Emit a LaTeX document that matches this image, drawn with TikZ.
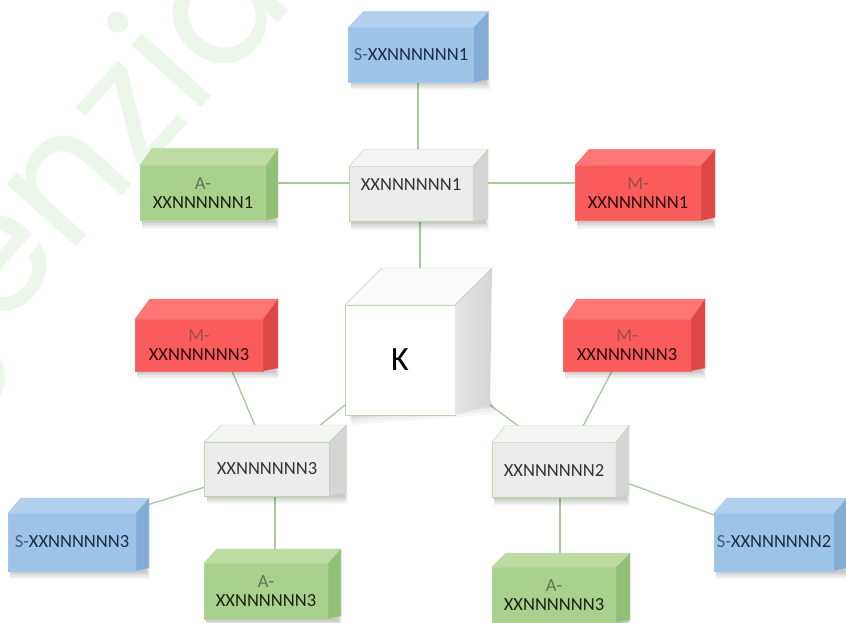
\documentclass[tikz,border=0pt]{standalone}
\usepackage{fontspec}
\setmainfont{Carlito}
\newfontfamily\wmfont{Poppins}
\usetikzlibrary{backgrounds,calc}
\definecolor{bluF}{HTML}{9DC3E6}\definecolor{bluT}{HTML}{B3D1EE}\definecolor{bluS}{HTML}{84ADD6}\definecolor{bluB}{HTML}{A6C9EA}
\definecolor{grnF}{HTML}{A9D18E}\definecolor{grnT}{HTML}{BCDCA4}\definecolor{grnS}{HTML}{92C077}\definecolor{grnB}{HTML}{B1D698}
\definecolor{redF}{HTML}{FA5C5C}\definecolor{redT}{HTML}{FF7676}\definecolor{redS}{HTML}{DE4747}\definecolor{redB}{HTML}{FC6A6A}
\definecolor{gryF}{HTML}{ECECEC}\definecolor{gryT}{HTML}{F4F4F4}\definecolor{gryS}{HTML}{D5D5D5}\definecolor{gryB}{HTML}{B7D8A8}
\definecolor{link}{HTML}{A9C89C}
\definecolor{wm}{HTML}{EDF6EA}
\definecolor{sPre}{HTML}{44627F}\definecolor{sMain}{HTML}{1B2B45}
\definecolor{aPre}{HTML}{5E7754}\definecolor{aMain}{HTML}{17230F}
\definecolor{mPre}{HTML}{A44A4A}\definecolor{mMain}{HTML}{2B0C0C}
\definecolor{cMain}{HTML}{333333}
\newcommand\boxfont{\fontsize{18.5}{19.5}\selectfont}
% #1 name #2 cx #3 cy #4 w #5 h #6 dx #7 dy #8 colour prefix #9 text
\newcommand\dbox[9]{%
  \pgfmathsetmacro\xl{#2-#4/2}\pgfmathsetmacro\xr{#2+#4/2}%
  \pgfmathsetmacro\yt{#3-#5/2}\pgfmathsetmacro\yb{#3+#5/2}%
  \foreach \s/\o in {8/0.04,6/0.05,4/0.06,2/0.07}{%
    \fill[black,opacity=\o] ({\xl+2},{\yb-4}) rectangle ({\xr+#6-3+\s/2},{\yb+\s});}
  \node[draw=#8B, fill=#8F, minimum width=#4, minimum height=#5, inner sep=0pt,
        align=center, font=\boxfont] (#1) at (#2,#3) {#9};
  \filldraw[fill=#8T, draw=#8B] (\xl,\yt) -- ++(#6,-#7) -- ({\xr+#6},{\yt-#7}) -- (\xr,\yt) -- cycle;
  \filldraw[fill=#8S, draw=#8B] (\xr,\yt) -- ({\xr+#6},{\yt-#7}) -- ({\xr+#6},{\yb-3}) -- (\xr,\yb) -- cycle;
}
\tikzset{conn/.style={draw=link, line width=1.3pt}}
\begin{document}
\begin{tikzpicture}[x=1pt,y=-1pt]
\useasboundingbox (0,0) rectangle (846,623);
% boxes
\dbox{S1}{411}{55}{125}{55}{15}{16}{blu}{{\color{sPre}S-}{\color{sMain}XXNNNNNN1}}
\dbox{C1}{411}{194}{124}{55}{15}{17}{gry}{\color{cMain}XXNNNNNN1\\[-6pt]\strut}
\dbox{A1}{203}{193}{126}{55}{12}{17}{grn}{{\color{aPre}A-}\\{\color{aMain}XXNNNNNN1}}
\dbox{M1}{638}{193}{126}{55}{14}{16}{red}{{\color{mPre}M-}\\{\color{mMain}XXNNNNNN1}}
\dbox{M3L}{199}{345}{128}{52}{15}{20}{red}{{\color{mPre}M-}\\{\color{mMain}XXNNNNNN3}}
\dbox{M3R}{627}{345}{128}{52}{14}{20}{red}{{\color{mPre}M-}\\{\color{mMain}XXNNNNNN3}}
\dbox{C3}{267}{469}{125}{54}{17}{17}{gry}{\color{cMain}XXNNNNNN3}
\dbox{C2}{554}{470}{124}{55}{13}{17}{gry}{\color{cMain}XXNNNNNN2}
\dbox{S3}{72}{542}{128}{58}{13}{15}{blu}{{\color{sPre}S-}{\color{sMain}XXNNNNNN3}}
\dbox{S2}{774}{542}{120}{58}{13}{15}{blu}{{\color{sPre}S-}{\color{sMain}XXNNNNNN2}}
\dbox{A3L}{266}{591}{124}{56}{13}{14}{grn}{{\color{aPre}A-}\\{\color{aMain}XXNNNNNN3}}
\dbox{A3R}{554}{595}{124}{56}{14}{14}{grn}{{\color{aPre}A-}\\{\color{aMain}XXNNNNNN3}}
% central cube
\foreach \s/\o in {10/0.03,7/0.04,4/0.05,2/0.06}{%
  \fill[black,opacity=\o] (348,411) -- (490,400) -- ({492+\s/2},{404+\s}) -- (352,{415+\s}) -- cycle;}
\node[draw=gryB, fill=white, minimum width=110, minimum height=110, inner sep=0pt,
      font=\fontsize{34}{34}\selectfont] (K) at (400,360) {K};
\filldraw[fill=gryT!40!white, draw=gryB] (345,305) -- (382,268) -- (492,268) -- (455,305) -- cycle;
\shade[left color=gryS!60!white, right color=gryS] (455,305) -- (492,268) -- (490,405) -- (455,415) -- cycle;
\draw[gryB] (455,305) -- (492,268);
% background: white, watermark and connectors
\begin{pgfonlayer}{background}
\fill[white] (0,0) rectangle (846,623);
\node[wm, rotate=48, anchor=base west, inner sep=0pt,
      font=\wmfont\fontsize{170}{170}\selectfont] (wmark) at (-80,420) {genzia};
\draw[conn] ([xshift=7]S1.center) -- ([xshift=7]C1.center);
\draw[conn] ([yshift=10]A1.center) -- ([yshift=11]C1.center);
\draw[conn] ([yshift=11]C1.center) -- ([yshift=10]M1.center);
\draw[conn] ([xshift=9]C1.center) -- ([xshift=20]K.center);
\draw[conn] ([xshift=33,yshift=-26]M3L.center) -- ([xshift=-11,yshift=41]C3.center);
\draw[conn] ([xshift=-55,yshift=-45]K.center) -- ([xshift=51,yshift=42]C3.center);
\draw[conn] ([xshift=90,yshift=-45]K.center) -- ([xshift=-33,yshift=42]C2.center);
\draw[conn] ([xshift=-15,yshift=-26]M3R.center) -- ([xshift=28,yshift=42]C2.center);
\draw[conn] ([xshift=-62,yshift=-18]C3.center) -- ([xshift=75,yshift=37]S3.center);
\draw[conn] ([xshift=8]C3.center) -- ([xshift=9]A3L.center);
\draw[conn] ([xshift=6]C2.center) -- ([xshift=6]A3R.center);
\draw[conn] ([xshift=73,yshift=-13]C2.center) -- ([xshift=-60,yshift=27]S2.center);
\end{pgfonlayer}
\end{tikzpicture}
\end{document}
